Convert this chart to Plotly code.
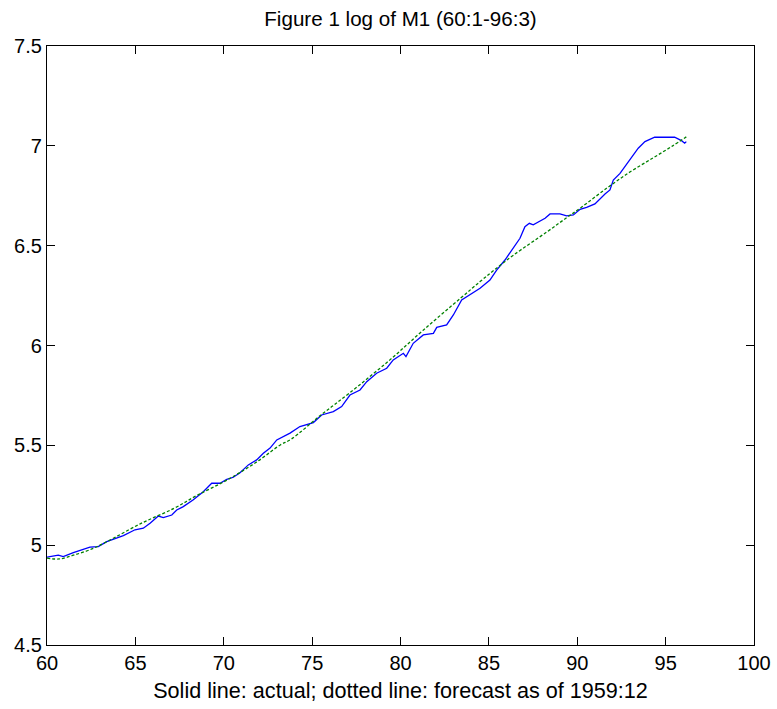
import plotly.graph_objects as go

# Actual log M1 (solid)
actual_x = [60.0, 60.64, 60.92, 61.49, 62.43, 62.9, 63.38, 64.32, 64.98, 65.45,
            65.83, 66.3, 66.58, 67.06, 67.34, 67.71, 68.28, 68.84, 69.32, 69.79,
            70.17, 70.54, 70.92, 71.39, 71.86, 72.24, 72.62, 73.0, 73.75, 74.31,
            75.07, 75.54, 76.2, 76.67, 77.14, 77.71, 78.09, 78.65, 79.22, 79.59,
            80.16, 80.31, 80.72, 81.29, 81.86, 82.05, 82.61, 82.99, 83.46, 83.93,
            84.5, 85.06, 85.44, 85.91, 86.29, 86.76, 87.04, 87.29, 87.51, 87.8,
            88.18, 88.46, 89.02, 89.4, 89.78, 90.16, 90.53, 91.0, 91.29, 91.57,
            91.85, 92.04, 92.42, 92.7, 92.99, 93.27, 93.45, 93.83, 94.1, 94.38,
            95.51, 95.9, 96.08, 96.17]
actual_y = [4.94, 4.95, 4.943, 4.963, 4.99, 4.993, 5.018, 5.048, 5.077, 5.085,
            5.11, 5.146, 5.138, 5.151, 5.176, 5.193, 5.227, 5.268, 5.31, 5.31,
            5.33, 5.34, 5.363, 5.402, 5.427, 5.46, 5.486, 5.527, 5.561, 5.594,
            5.614, 5.652, 5.669, 5.694, 5.752, 5.777, 5.819, 5.861, 5.886, 5.928,
            5.961, 5.944, 6.011, 6.053, 6.061, 6.091, 6.103, 6.153, 6.228, 6.253,
            6.287, 6.328, 6.378, 6.428, 6.478, 6.537, 6.595, 6.612, 6.604, 6.62,
            6.637, 6.659, 6.659, 6.649, 6.654, 6.682, 6.692, 6.709, 6.737, 6.759,
            6.779, 6.829, 6.862, 6.896, 6.929, 6.963, 6.988, 7.021, 7.033, 7.043,
            7.043, 7.026, 7.013, 7.021]

# Forecast as of 1959:12 (dotted)
forecast_x = [60.0, 60.7, 61.5, 62.4, 63.4, 65.3, 67.2, 68.5, 70.2, 71.9,
              73.2, 73.8, 75.5, 77.1, 79.4, 81.3, 83.4, 84.5, 85.3, 86.4,
              88.3, 89.4, 90.2, 91.7, 93.0, 94.3, 95.4, 96.17]
forecast_y = [4.935, 4.931, 4.95, 4.976, 5.018, 5.108, 5.185, 5.25, 5.327, 5.419,
              5.502, 5.53, 5.652, 5.761, 5.928, 6.078, 6.237, 6.32, 6.378, 6.453,
              6.57, 6.64, 6.69, 6.79, 6.87, 6.94, 7.0, 7.045]

x_ticks = [60, 65, 70, 75, 80, 85, 90, 95, 100]
y_ticks = [4.5, 5, 5.5, 6, 6.5, 7, 7.5]
y_tick_text = ["4.5", "5", "5.5", "6", "6.5", "7", "7.5"]

title_text = "Figure 1 log of M1 (60:1-96:3)"
xlabel_text = "Solid line: actual; dotted line: forecast as of 1959:12"

fig = go.Figure()
fig.add_trace(go.Scatter(x=actual_x, y=actual_y, mode="lines",
                         line=dict(color="#0000ff", width=1.3), showlegend=False))
fig.add_trace(go.Scatter(x=forecast_x, y=forecast_y, mode="lines",
                         line=dict(color="#008000", width=1.3, dash="3px,2px"),
                         line_shape="spline", showlegend=False))

font_family = "Liberation Sans, Arial, sans-serif"
fig.update_layout(
    width=777, height=709,
    margin=dict(l=47, r=23, t=46, b=64, autoexpand=False),
    paper_bgcolor="white", plot_bgcolor="white",
    font=dict(family=font_family, size=20, color="black"),
    title=dict(text=title_text, x=0.5, xanchor="center", xref="paper",
               y=1 - 19 / 709, yanchor="middle", font=dict(size=20.6, color="black")),
    xaxis=dict(range=[60, 100], tickvals=x_ticks, ticktext=[str(v) for v in x_ticks],
               ticks="inside", ticklen=8, tickcolor="black", tickwidth=1,
               showline=True, linecolor="black", linewidth=1.2, mirror="ticks",
               showgrid=False, zeroline=False, automargin=False,
               title=dict(text=xlabel_text, font=dict(size=21.6), standoff=9),
               tickfont=dict(size=20)),
    yaxis=dict(range=[4.5, 7.5], tickvals=y_ticks, ticktext=y_tick_text,
               ticks="inside", ticklen=8, tickcolor="black", tickwidth=1,
               showline=True, linecolor="black", linewidth=1.2, mirror="ticks",
               showgrid=False, zeroline=False, automargin=False,
               tickfont=dict(size=20)),
)

fig.write_html("out.html")
